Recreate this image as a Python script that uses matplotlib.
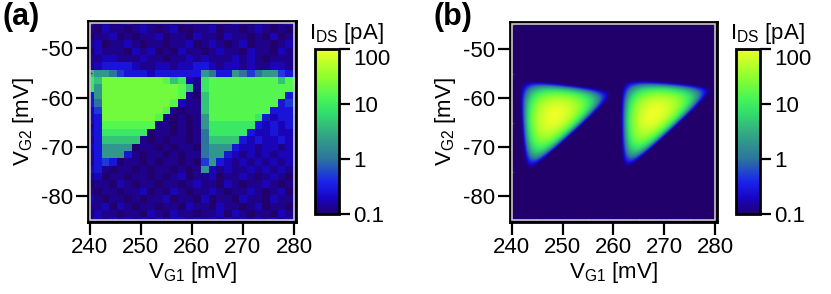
import numpy as np
import matplotlib
matplotlib.use('Agg')
import matplotlib.pyplot as plt
from matplotlib.colors import LinearSegmentedColormap, LogNorm
from matplotlib.patches import Rectangle

plt.rcParams['font.family'] = ['Liberation Sans', 'DejaVu Sans']
plt.rcParams['axes.unicode_minus'] = False
plt.rcParams['font.size'] = 16

# ---- panel (a): measured map, one character per pixel (top row first) ----
vg1_start, vg1_step, n_vg1 = 239.3, 1.5, 28
vg2_start, vg2_step, n_vg2 = -85.85, 1.5, 28
rows_a = [
    "2110120101101211010210110121",
    "1021101210120011201101210101",
    "0112010112011021102110102011",
    "1201121011011201210120110120",
    "0211102120102110121102110211",
    "1122111211011212111212101112",
    "1233332112212233212212112212",
    "7665433323333336533654566433",
    "87aaaaaaaa978218999999999799",
    "86aaaaaaaaaa9718999999999997",
    "36aaaaaaaaaa9107999999999936",
    "35aaaaaaaaa92117999999999346",
    "24aaaaaaaa910117999999993335",
    "23aaaaaaa9101016999999832334",
    "1399999991101016888888323234",
    "2388888801101015888883223223",
    "1377777101011015777732322323",
    "2366660110101105666322122123",
    "1366631011010115663212121223",
    "1343011010110104632121212123",
    "2310110101101016212112121212",
    "1201101101012011201121012102",
    "0110210110110121102101121011",
    "1011011201021011210112101201",
    "2101101011201102011021102112",
    "1120210110110211021101201101",
    "0211011021021101120210110212",
    "1212121212122121212121212121",
]
level_pa = {'0': 0.1, '1': 0.13, '2': 0.18, '3': 0.28, '4': 0.5, '5': 1.0,
            '6': 2.0, '7': 4.5, '8': 9.0, '9': 15.0, 'a': 22.0}

# ---- panel (b): simulated triangles ----
tri_vg1 = [[241.3, 261.0, 242.6], [261.3, 280.6, 261.6]]
tri_vg2 = [[-56.0, -58.5, -76.0], [-56.0, -57.6, -75.8]]
peak_pa = [100.0, 100.0]

cbar_ticks = [0.1, 1, 10, 100]
cbar_labels = ['0.1', '1', '10', '100']

cmap = LinearSegmentedColormap.from_list('ids', [
    (0.00, (0.13, 0.00, 0.42)),
    (0.10, (0.09, 0.02, 0.78)),
    (0.20, (0.10, 0.15, 0.92)),
    (0.33, (0.17, 0.45, 0.62)),
    (0.48, (0.20, 0.65, 0.52)),
    (0.62, (0.20, 0.88, 0.42)),
    (0.70, (0.28, 0.96, 0.34)),
    (0.83, (0.55, 1.00, 0.18)),
    (1.00, (0.93, 1.00, 0.15)),
])
norm = LogNorm(0.1, 100)

assert all(len(r) == n_vg1 for r in rows_a) and len(rows_a) == n_vg2
ids_a = np.array([[level_pa[c] for c in row] for row in rows_a])[::-1]
vg1_edges = vg1_start + vg1_step * np.arange(n_vg1 + 1)
vg2_edges = vg2_start + vg2_step * np.arange(n_vg2 + 1)

gx = np.linspace(239.0, 281.0, 600)
gy = np.linspace(-86.0, -44.0, 600)
X, Y = np.meshgrid(gx, gy)
ids_b = np.full(X.shape, 0.1)
for tx, ty, pk in zip(tri_vg1, tri_vg2, peak_pa):
    x1, x2, x3 = tx
    y1, y2, y3 = ty
    det = (y2 - y3) * (x1 - x3) + (x3 - x2) * (y1 - y3)
    l1 = ((y2 - y3) * (X - x3) + (x3 - x2) * (Y - y3)) / det
    l2 = ((y3 - y1) * (X - x3) + (x1 - x3) * (Y - y3)) / det
    l3 = 1 - l1 - l2
    f = 27 * np.clip(l1, 0, None) * np.clip(l2, 0, None) * np.clip(l3, 0, None)
    ids_b += pk * f ** 3
# slight blur for the soft rim
k = np.exp(-0.5 * (np.arange(-10, 11) / 3.0) ** 2)
k /= k.sum()
ids_b = np.apply_along_axis(lambda v: np.convolve(v, k, mode='same'), 0, ids_b)
ids_b = np.apply_along_axis(lambda v: np.convolve(v, k, mode='same'), 1, ids_b)
ids_b = np.clip(ids_b, 0.1, 100)

W, H = 831, 294
fig = plt.figure(figsize=(W / 100, H / 100), dpi=100)


def style_axes(ax):
    ax.set_xlim(239.65, 280.4)
    ax.set_ylim(-85.3, -44.45)
    ax.set_xticks([240, 250, 260, 270, 280])
    ax.set_yticks([-80, -70, -60, -50])
    ax.set_xticks([245, 255, 265, 275], minor=True)
    ax.set_yticks([-85, -75, -65, -55, -45], minor=True)
    ax.tick_params(which='major', direction='out', length=9, width=1.6, pad=2)
    ax.tick_params(which='minor', direction='in', length=3, width=1.0, color='#333333')
    for s in ax.spines.values():
        s.set_linewidth(2.0)
    ax.add_patch(Rectangle((0.008, 0.008), 0.984, 0.984, transform=ax.transAxes,
                           fill=False, ec='#c8c8c8', lw=1.2, zorder=5))
    ax.set_xlabel(r'V$_{\mathregular{G1}}$ [mV]', va='top')
    ax.xaxis.set_label_coords(0.5, -0.19)
    ax.set_ylabel(r'V$_{\mathregular{G2}}$ [mV]')
    ax.yaxis.set_label_coords(-0.25, 0.5)


def add_cbar(mappable, left):
    cax = fig.add_axes([left / W, 1 - 214 / H, 24 / W, 165 / H])
    cb = fig.colorbar(mappable, cax=cax)
    cb.set_ticks(cbar_ticks)
    cb.set_ticklabels(cbar_labels)
    cb.minorticks_off()
    cb.outline.set_linewidth(2.0)
    cax.tick_params(direction='out', length=8, width=1.6, pad=2)
    for lab in cax.get_yticklabels():
        lab.set_va('top' if lab.get_text() == '100' else 'center_baseline')
    fig.text((left - 6) / W, 1 - 39 / H, r'I$_{\mathregular{DS}}$ [pA]', va='baseline')


ax1 = fig.add_axes([88 / W, 1 - 222 / H, 208 / W, 201 / H])
m1 = ax1.pcolormesh(vg1_edges, vg2_edges, ids_a, cmap=cmap, norm=norm)
style_axes(ax1)
add_cbar(m1, 315)

ax2 = fig.add_axes([510 / W, 1 - 222 / H, 207 / W, 200 / H])
m2 = ax2.imshow(ids_b, origin='lower', extent=[gx[0], gx[-1], gy[0], gy[-1]],
                cmap=cmap, norm=norm, aspect='auto', interpolation='bilinear')
style_axes(ax2)
add_cbar(m2, 736)

fig.text(3 / W, 1 - 2 / H, '(a)', fontsize=22, fontweight='bold', va='top')
fig.text(433 / W, 1 - 2 / H, '(b)', fontsize=22, fontweight='bold', va='top')

fig.savefig('out.png', dpi=100)
